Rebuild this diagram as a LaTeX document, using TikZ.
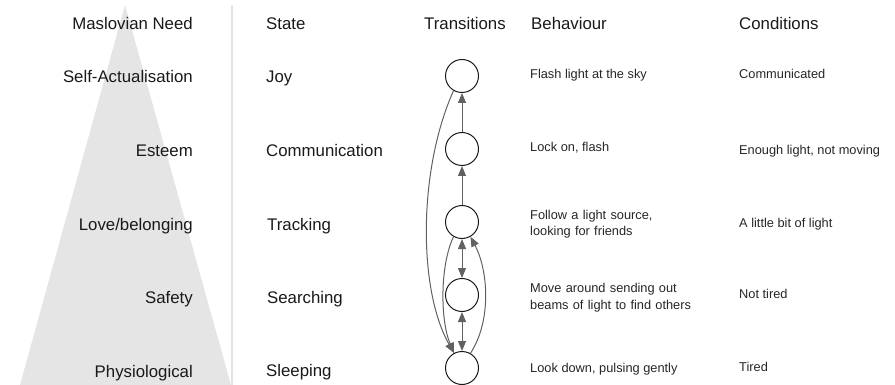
\documentclass[tikz,border=0pt]{standalone}
\usepackage{fontspec}
\setmainfont{Liberation Sans}
\usetikzlibrary{arrows.meta}
\begin{document}
\begin{tikzpicture}[x=1pt,y=-1pt,
  big/.style={font=\fontsize{16.8}{20}\selectfont, inner sep=0pt, text=black!90},
  small/.style={font=\fontsize{12.8}{17}\selectfont, inner sep=0pt, text=black!85},
  stnode/.style={circle, draw=black!90, line width=1pt, minimum size=33pt, inner sep=0pt},
  tip/.tip={Triangle[length=10pt,width=8pt]},
  tr/.style={draw=black!62, line width=1pt, -tip},
  trb/.style={draw=black!62, line width=1pt, tip-tip}]
\useasboundingbox (0,0) rectangle (895,385);
% pyramid and separator
\fill[black!10] (125,5) -- (231,385) -- (20,385) -- cycle;
\fill[black!11] (231,5) rectangle (233,385);
% headers
\node[big, anchor=base east] (hneed) at (193,30) {Maslovian Need};
\node[big, anchor=base west] (hstate) at (266,30) {State};
\node[big, anchor=base west] (htrans) at (424,30) {Transitions};
\node[big, anchor=base west] (hbeh) at (531,30) {Behaviour};
\node[big, anchor=base west] (hcond) at (739,30) {Conditions};
% needs
\node[big, anchor=base east] (n1) at (193,83) {Self-Actualisation};
\node[big, anchor=base east] (n2) at (193,157) {Esteem};
\node[big, anchor=base east] (n3) at (193,230) {Love/belonging};
\node[big, anchor=base east] (n4) at (193,303) {Safety};
\node[big, anchor=base east] (n5) at (193,377) {Physiological};
% states
\node[big, anchor=base west] (s1) at (266,83) {Joy};
\node[big, anchor=base west] (s2) at (266,157) {Communication};
\node[big, anchor=base west] (s3) at (267,230) {Tracking};
\node[big, anchor=base west] (s4) at (267,303) {Searching};
\node[big, anchor=base west] (s5) at (266,376) {Sleeping};
% behaviours
\node[small, anchor=base west] (b1) at (530,79) {Flash light at the sky};
\node[small, anchor=base west] (b2) at (530,152) {Lock on, flash};
\node[small, anchor=base west, text width=200pt, align=left] (b3) at (530,219) {Follow a light source,\\looking for friends};
\node[small, anchor=base west, text width=200pt, align=left] (b4) at (530,292) {Move around sending out\\beams of light to find others};
\node[small, anchor=base west] (b5) at (530,372) {Look down, pulsing gently};
% conditions
\node[small, anchor=base west] (c1) at (739,79) {Communicated};
\node[small, anchor=base west] (c2) at (739,155) {Enough light, not moving};
\node[small, anchor=base west] (c3) at (739,228) {A little bit of light};
\node[small, anchor=base west] (c4) at (739,298) {Not tired};
\node[small, anchor=base west] (c5) at (739,371) {Tired};
% state machine
\node[stnode] (joy) at (462,76) {};
\node[stnode] (comm) at (462,149) {};
\node[stnode] (track) at (462,222) {};
\node[stnode] (search) at (462,295) {};
\node[stnode] (sleep) at (462,368) {};
\draw[tr] (comm) -- (joy);
\draw[tr] (track) -- (comm);
\draw[trb] (track) -- (search);
\draw[trb] (search) -- (sleep);
\draw[tr] (joy.240) .. controls (418,170) and (418,290) .. (sleep.118);
\draw[tr] (track.240) .. controls (440,265) and (440,320) .. (sleep.118);
\draw[tr] (sleep.60) .. controls (492,320) and (488,270) .. (track.-60);
\end{tikzpicture}
\end{document}
